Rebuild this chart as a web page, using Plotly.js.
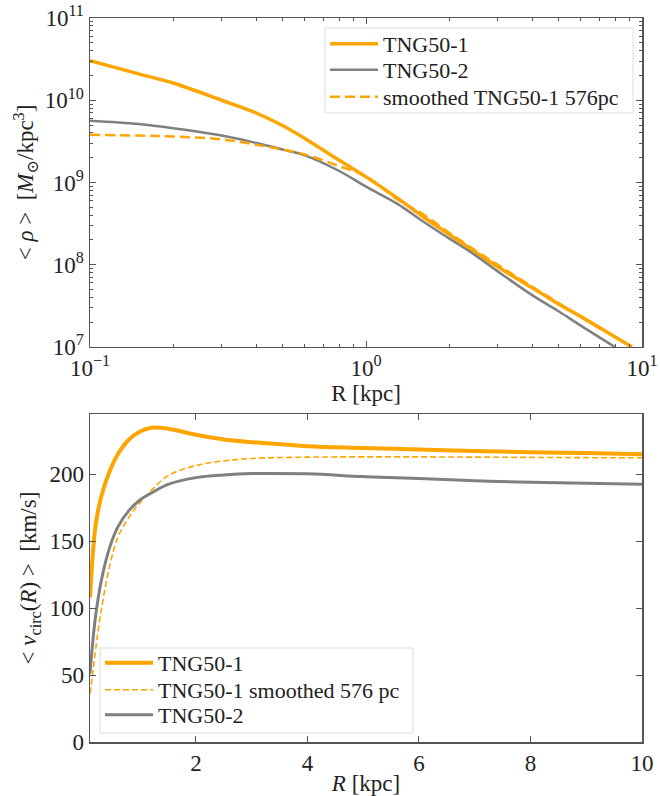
<!DOCTYPE html>
<html>
<head>
<meta charset="utf-8">
<script src="https://cdn.plot.ly/plotly-3.0.1.min.js"></script>
<style>html,body{margin:0;padding:0;background:#fff;}</style>
</head>
<body>
<div id="chart" style="width:660px;height:796px;"></div>
<script>
// ---- Top panel: density profiles (log-log) ----
const rhoR = [0.1, 0.15, 0.2, 0.3, 0.4, 0.5, 0.6, 0.8, 1.0, 1.3, 1.6, 2.0, 2.5, 3.0, 4.0, 5.0, 6.0, 8.0, 9.2];
const rhoTNG1 = [3.02e10, 2.09e10, 1.62e10, 1.0e10, 7.0e9, 4.9e9, 3.43e9, 1.86e9, 1.17e9, 6.46e8, 3.89e8, 2.34e8, 1.41e8, 9.44e7, 5.25e7, 3.31e7, 2.34e7, 1.32e7, 1.0e7];
const rhoSmooth = [3.8e9, 3.72e9, 3.63e9, 3.35e9, 2.88e9, 2.51e9, 2.19e9, 1.58e9, 1.19e9, 6.2e8, 4.17e8, 2.45e8, 1.48e8, 1.0e8, 5.4e7, 3.4e7, 2.35e7, 1.32e7, 1.0e7];
const rhoR2 = [0.1, 0.15, 0.2, 0.3, 0.4, 0.5, 0.6, 0.8, 1.0, 1.3, 1.6, 2.0, 2.5, 3.0, 4.0, 5.0, 6.0, 7.98];
const rhoTNG2 = [5.62e9, 5.13e9, 4.57e9, 3.72e9, 3.02e9, 2.51e9, 2.14e9, 1.38e9, 8.9e8, 5.5e8, 3.4e8, 2.09e8, 1.29e8, 8.3e7, 4.27e7, 2.7e7, 1.82e7, 1.0e7];

// ---- Bottom panel: circular velocity ----
const vR = [0.1, 0.15, 0.2, 0.3, 0.45, 0.6, 0.8, 1.0, 1.2, 1.5, 2, 2.5, 3, 4, 5, 6, 7, 8, 9, 10];
const vTNG1 = [108, 140, 162, 183, 202, 215, 226, 232, 234.8, 234, 229.5, 226, 224, 221, 219.7, 218.5, 217.3, 216.5, 215.8, 215];
const vSmooth = [36, 52, 69, 98, 131, 153, 168, 179, 188, 199, 206.5, 210, 211.8, 212.8, 213, 213, 212.8, 212.6, 212.4, 212.3];
const vTNG2 = [51, 75, 94, 120, 145, 160.7, 173, 181, 186, 192.5, 197.5, 199.5, 200.5, 200.3, 198.3, 196.8, 195.2, 194, 193.2, 192.5];

// tick labels
const logXTickVals = [0.1, 1, 10];
const logXTickText = ['10<sup>\u22121</sup>', '10<sup>0</sup>', '10<sup>1</sup>'];
const logYTickVals = [1e7, 1e8, 1e9, 1e10, 1e11];
const logYTickText = ['10<sup>7</sup>', '10<sup>8</sup>', '10<sup>9</sup>', '10<sup>10</sup>', '10<sup>11</sup>'];
const linXTickVals = [2, 4, 6, 8, 10];
const linYTickVals = [0, 50, 100, 150, 200];

const ORANGE = '#FFA500';
const GRAY = '#808080';
const FONT = '"Liberation Serif", "DejaVu Serif", serif';
const PAD = '\u00A0'.repeat(10);

const traces = [
  {x: rhoR, y: rhoTNG1, name: 'TNG50-1', mode: 'lines', line: {color: ORANGE, width: 3.5, shape: 'spline', smoothing: 1}, xaxis: 'x', yaxis: 'y', legend: 'legend'},
  {x: rhoR2, y: rhoTNG2, name: 'TNG50-2', mode: 'lines', line: {color: GRAY, width: 2.5, shape: 'spline', smoothing: 1}, xaxis: 'x', yaxis: 'y', legend: 'legend2'},
  {x: rhoR, y: rhoSmooth, name: 'smoothed TNG50-1 576pc', mode: 'lines', line: {color: ORANGE, width: 2.5, dash: '10px,5px', shape: 'spline', smoothing: 1}, xaxis: 'x', yaxis: 'y', legend: 'legend3'},
  {x: vR, y: vTNG1, name: 'TNG50-1', mode: 'lines', line: {color: ORANGE, width: 4, shape: 'spline'}, xaxis: 'x2', yaxis: 'y2', legend: 'legend4'},
  {x: vR, y: vSmooth, name: 'TNG50-1 smoothed 576 pc', mode: 'lines', line: {color: ORANGE, width: 1.6, dash: '6px,3px', shape: 'spline'}, xaxis: 'x2', yaxis: 'y2', legend: 'legend5'},
  {x: vR, y: vTNG2, name: 'TNG50-2', mode: 'lines', line: {color: GRAY, width: 3, shape: 'spline'}, xaxis: 'x2', yaxis: 'y2', legend: 'legend6'}
];

const axisCommon = {
  showline: true, linecolor: '#555', linewidth: 1.5, mirror: 'ticks',
  ticks: 'inside', ticklen: 6, tickwidth: 1, tickcolor: '#555',
  showgrid: false, zeroline: false,
  tickfont: {family: FONT, size: 23, color: '#222'}
};

function legendAt(xp, yp) {
  return {
    x: xp, y: yp, xanchor: 'left', yanchor: 'middle',
    bgcolor: 'rgba(0,0,0,0)', borderwidth: 0, itemwidth: 48,
    font: {family: FONT, size: 22, color: '#222'}
  };
}

const layout = {
  width: 660, height: 796,
  margin: {l: 90, r: 18, t: 18, b: 54},
  paper_bgcolor: '#fff', plot_bgcolor: '#fff',
  font: {family: FONT, color: '#222'},
  showlegend: true,
  xaxis: Object.assign({}, axisCommon, {
    type: 'log', range: [-1, 1], domain: [0, 1], anchor: 'y',
    tickmode: 'array', tickvals: logXTickVals, ticktext: logXTickText,
    minor: {dtick: 'D1', ticks: 'inside', ticklen: 3, tickcolor: '#555', showgrid: false},
    title: {text: 'R [kpc]', font: {family: FONT, size: 23, color: '#222'}, standoff: 0}
  }),
  yaxis: Object.assign({}, axisCommon, {
    type: 'log', range: [7, 11], domain: [0.5456, 1], anchor: 'x',
    tickmode: 'array', tickvals: logYTickVals, ticktext: logYTickText,
    minor: {dtick: 'D1', ticks: 'inside', ticklen: 3, tickcolor: '#555', showgrid: false},
    title: {text: '< <i>\u03C1</i> >  [<i>M</i><sub>\u2299</sub>/kpc<sup>3</sup>]' + PAD, font: {family: FONT, size: 23, color: '#222'}, standoff: 4}
  }),
  xaxis2: Object.assign({}, axisCommon, {
    range: [0.1, 10], domain: [0, 1], anchor: 'y2',
    tickmode: 'array', tickvals: linXTickVals,
    title: {text: '<i>R</i> [kpc]', font: {family: FONT, size: 23, color: '#222'}, standoff: 0}
  }),
  yaxis2: Object.assign({}, axisCommon, {
    range: [0, 245], domain: [0, 0.453], anchor: 'x2',
    tickmode: 'array', tickvals: linYTickVals,
    title: {text: '< <i>v</i><sub>circ</sub>(<i>R</i>) >  [km/s]', font: {family: FONT, size: 23, color: '#222'}, standoff: 6}
  }),
  legend: legendAt(0.4257, 0.9641),
  legend2: legendAt(0.4257, 0.9282),
  legend3: legendAt(0.4257, 0.8909),
  legend4: legendAt(0.0181, 0.1091),
  legend5: legendAt(0.0181, 0.0718),
  legend6: legendAt(0.0181, 0.0373),
  shapes: [
    {type: 'rect', xref: 'paper', yref: 'paper', x0: 0.4257, x1: 0.9837, y0: 0.8688, y1: 0.9862,
     fillcolor: 'rgba(255,255,255,0.85)', line: {color: '#dcdcdc', width: 1}, layer: 'above'},
    {type: 'rect', xref: 'paper', yref: 'paper', x0: 0.0181, x1: 0.5851, y0: 0.0124, y1: 0.1298,
     fillcolor: 'rgba(255,255,255,0.85)', line: {color: '#dcdcdc', width: 1}, layer: 'above'}
  ]
};

Plotly.newPlot('chart', traces, layout, {displayModeBar: false, staticPlot: true});
</script>
</body>
</html>
